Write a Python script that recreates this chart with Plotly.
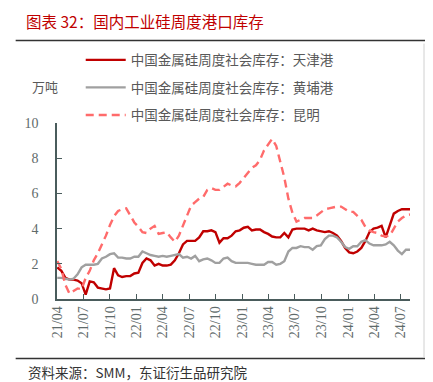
import plotly.graph_objects as go
import pandas as pd

# ---------------- data (biweekly) ----------------
start_date = "2021-04-02"
n_points = 88
dates = pd.date_range(start_date, periods=n_points, freq="14D")

series_names = [
    "中国金属硅周度社会库存：天津港",
    "中国金属硅周度社会库存：黄埔港",
    "中国金属硅周度社会库存：昆明",
]

tianjin = [1.8, 1.6, 1.2, 1.1, 1.1, 1.05, 0.9, 0.25, 1.0, 0.95,
           0.65, 0.6, 0.55, 0.6, 1.75, 1.35, 1.25, 1.3, 1.3, 1.45,
           1.5, 2.05, 2.3, 2.2, 1.9, 2.0, 1.9, 1.9, 1.95, 2.2,
           2.6, 3.1, 3.3, 3.3, 3.3, 3.5, 3.85, 3.85, 3.9, 3.8,
           3.2, 3.45, 3.45, 3.6, 3.85, 3.9, 4.05, 4.1, 3.9, 3.95,
           3.95, 3.8, 3.7, 3.55, 3.5, 3.5, 3.75, 3.5, 3.95, 4.0,
           4.0, 4.0, 3.9, 4.0, 3.9, 3.85, 3.8, 3.85, 3.75, 3.6,
           3.3, 2.9, 2.65, 2.6, 2.7, 2.9, 3.3, 3.8, 4.0, 4.05,
           4.15, 3.5, 4.2, 4.85, 5.0, 5.1, 5.1, 5.1]

huangpu = [1.2, 1.2, 1.15, 1.1, 1.15, 1.4, 1.8, 1.95, 1.95, 1.95,
           2.0, 2.3, 2.4, 2.55, 2.6, 2.35, 2.35, 2.3, 2.3, 2.4,
           2.4, 2.7, 2.6, 2.5, 2.45, 2.4, 2.45, 2.4, 2.45, 2.5,
           2.55, 2.35, 2.4, 2.3, 2.45, 2.15, 2.25, 2.3, 2.2, 2.05,
           2.05, 2.3, 2.35, 2.15, 2.05, 2.05, 2.05, 2.05, 2.0, 1.95,
           1.95, 1.95, 2.1, 2.1, 1.95, 2.0, 2.15, 2.7, 2.9, 2.9,
           3.0, 2.95, 2.95, 2.8, 3.0, 3.05, 3.4, 3.6, 3.6, 3.5,
           3.25, 2.95, 2.85, 3.0, 3.0, 3.25, 3.35, 3.15, 3.05, 3.05,
           3.05, 3.1, 3.25, 3.05, 2.75, 2.55, 2.8, 2.8]

kunming = [2.15, 1.7, 0.8, 0.3, 0.45, 0.6, 0.55, 1.2, 1.6, 2.2,
           2.6, 3.1, 3.6, 4.2, 4.7, 5.0, 5.1, 5.15, 4.75, 4.35,
           4.1, 3.8, 3.75, 4.0, 4.15, 3.7, 3.75, 3.8, 3.5, 3.25,
           3.6, 4.2, 4.8, 5.3, 5.5, 5.7, 5.8, 6.2, 6.3, 6.2,
           6.2, 6.35, 6.55, 6.45, 6.4, 6.6, 6.9, 7.15, 7.45, 7.6,
           7.9, 8.45, 8.8, 9.1, 8.7, 7.8, 6.9, 5.7, 4.9, 4.4,
           4.5, 4.6, 4.6, 4.6, 4.75, 4.95, 5.1, 5.15, 5.2, 5.25,
           5.25, 5.1, 4.95, 4.95, 4.7, 4.5, 4.1, 3.9, 3.8, 3.75,
           3.6, 3.55, 3.6, 4.0, 4.4, 4.6, 4.75, 4.8]

y_ticks = [0, 2, 4, 6, 8, 10]
title_text = "图表 32：国内工业硅周度港口库存"
unit_text = "万吨"
source_text = "资料来源：SMM，东证衍生品研究院"

# ---------------- layout geometry ----------------
W, H = 433, 382
L, R, T, B = 49.3, 31, 114.7, 90.7
PW, PH = W - L - R, H - T - B


def pxx(px):
    return (px - L) / PW


def pxy(py):
    return (H - B - py) / PH


CJK = "Noto Sans CJK SC"
SERIF = "Liberation Serif"
AXIS_COLOR = "#4a5c5c"
TICK_FONT_COLOR = "#5f6b6b"

fig = go.Figure()
styles = [
    dict(color="#c00000", width=2.4),
    dict(color="#a0a0a0", width=2.4),
    dict(color="#ff6b6b", width=2.4, dash="8px,5px"),
]
for name, vals, st, g in zip(series_names, [tianjin, huangpu, kunming], styles, ["a", "b", "c"]):
    fig.add_trace(go.Scatter(x=dates, y=vals, mode="lines", name=name,
                             line=st, legendgroup=g))

fig.update_layout(
    width=W, height=H,
    margin=dict(l=L, r=R, t=T, b=B, pad=0),
    paper_bgcolor="white", plot_bgcolor="white",
    showlegend=True,
    legend=dict(
        x=pxx(73), y=pxy(36), xanchor="left", yanchor="top",
        bgcolor="rgba(0,0,0,0)",
        font=dict(family=CJK, size=13.5, color="#595959"),
        tracegroupgap=7, itemwidth=40,
    ),
    title=dict(text=title_text, x=18 / W, y=1 - 15 / H, xref="container", yref="container",
               xanchor="left", yanchor="middle",
               font=dict(family=CJK, size=15.5, color="#c00000")),
    xaxis=dict(
        type="date",
        range=["2021-04-01", "2024-08-02"],
        tick0="2021-04-01", dtick="M3", tickformat="%y/%m",
        tickangle=-90,
        ticks="inside", ticklen=5, tickcolor=AXIS_COLOR, tickwidth=1.2,
        showline=True, linecolor=AXIS_COLOR, linewidth=1.5,
        showgrid=False, zeroline=False,
        tickfont=dict(family=SERIF, size=14, color=TICK_FONT_COLOR),
    ),
    yaxis=dict(
        range=[0, 10], tickvals=y_ticks,
        ticks="inside", ticklen=5, tickcolor=AXIS_COLOR, tickwidth=1.2,
        showline=True, linecolor=AXIS_COLOR, linewidth=1.5,
        showgrid=False, zeroline=False, ticklabelstandoff=14,
        tickfont=dict(family=SERIF, size=14, color=TICK_FONT_COLOR),
    ),
    annotations=[
        dict(text=unit_text, x=pxx(22), y=pxy(78), xref="paper", yref="paper",
             xanchor="left", yanchor="middle", showarrow=False,
             font=dict(family=CJK, size=13, color="#595959")),
        dict(text=source_text, x=pxx(18), y=pxy(365), xref="paper", yref="paper",
             xanchor="left", yanchor="middle", showarrow=False,
             font=dict(family=CJK, size=13.5, color="#333333")),
    ],
    shapes=[
        dict(type="line", xref="paper", yref="paper", x0=pxx(8), x1=pxx(425),
             y0=pxy(32), y1=pxy(32), line=dict(color="#333333", width=1.5)),
        dict(type="line", xref="paper", yref="paper", x0=pxx(8), x1=pxx(425),
             y0=pxy(351), y1=pxy(351), line=dict(color="#333333", width=1.5)),
        dict(type="line", xref="paper", yref="paper", x0=pxx(416), x1=pxx(416),
             y0=pxy(35), y1=pxy(350), line=dict(color="#d0d0d0", width=1)),
    ],
)

fig.write_html("out.html")
